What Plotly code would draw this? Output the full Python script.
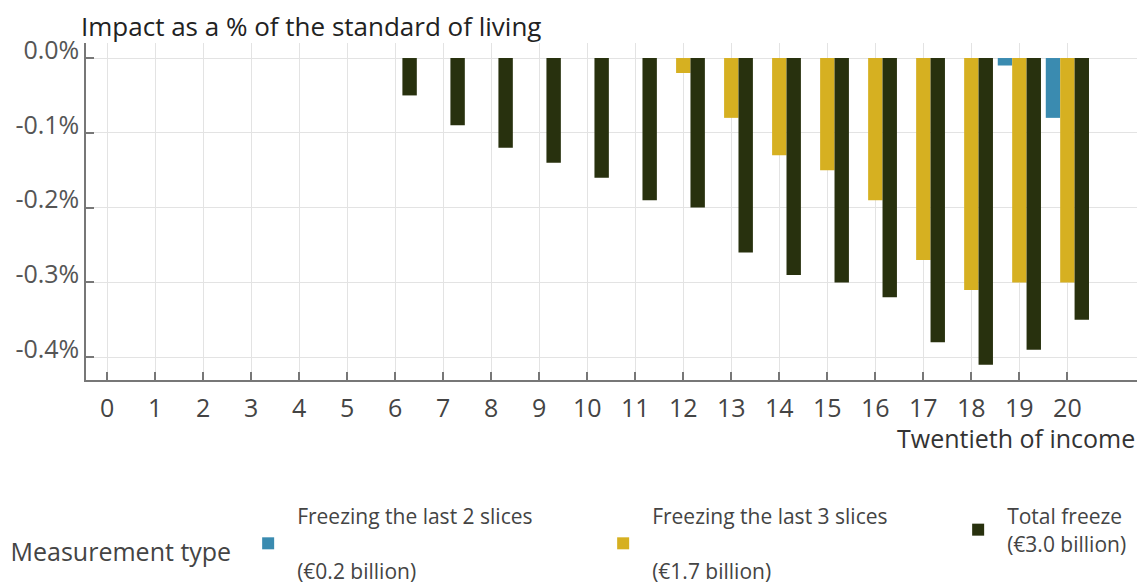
import plotly.graph_objects as go

twentieths = list(range(1, 21))
freeze_2_slices = [0, 0, 0, 0, 0, 0, 0, 0, 0, 0, 0, 0, 0, 0, 0, 0, 0, 0, -0.01, -0.08]
freeze_3_slices = [0, 0, 0, 0, 0, 0, 0, 0, 0, 0, 0, -0.02, -0.08, -0.13, -0.15, -0.19, -0.27, -0.31, -0.30, -0.30]
total_freeze = [0, 0, 0, 0, 0, -0.05, -0.09, -0.12, -0.14, -0.16, -0.19, -0.20, -0.26, -0.29, -0.30, -0.32, -0.38, -0.41, -0.39, -0.35]

series_names = [
    "Freezing the last 2 slices<br><br>(€0.2 billion)",
    "Freezing the last 3 slices<br><br>(€1.7 billion)",
    "Total freeze<br>(€3.0 billion)",
]
colors = ["#3a8bb0", "#d6b021", "#28310e"]

x_ticks = list(range(0, 21))
y_ticks = [0.0, -0.1, -0.2, -0.3, -0.4]
y_ticklabels = ["0.0%", "-0.1%", "-0.2%", "-0.3%", "-0.4%"]

FONT = "Open Sans"
FS = 25
LEG_FS = 21

fig = go.Figure()
for name, vals, col in zip(series_names, [freeze_2_slices, freeze_3_slices, total_freeze], colors):
    fig.add_trace(go.Bar(x=twentieths, y=vals, name=name, marker=dict(color=col, line=dict(width=0))))

# the page body adds an 8px margin, so the figure is sized to fit the window exactly
fig.update_layout(
    width=1139, height=578,
    margin=dict(l=78, r=10, t=35, b=206, autoexpand=False),
    paper_bgcolor="white", plot_bgcolor="white",
    barmode="group", bargap=0.1, bargroupgap=0,
    font=dict(family=FONT, size=FS, color="#444"),
    showlegend=True,
    legend=dict(
        orientation="h", x=-0.0737, xanchor="left", y=-0.3438, yanchor="top",
        font=dict(family=FONT, size=LEG_FS, color="#444"),
        title=dict(text="<br>Measurement type", side="left", font=dict(family=FONT, size=25, color="#444")),
        traceorder="normal", itemwidth=48, entrywidth=292,
    ),
    xaxis=dict(
        range=[-0.44, 21.45], tickmode="array", tickvals=x_ticks,
        ticktext=[str(v) for v in x_ticks],
        showgrid=True, gridcolor="#e3e3e3", gridwidth=1,
        showline=True, linecolor="#777", linewidth=1.5,
        ticks="inside", ticklen=8, tickcolor="#777", tickwidth=1.5,
        tickfont=dict(family=FONT, size=FS, color="#444"),
        ticklabelstandoff=5, zeroline=False,
    ),
    yaxis=dict(
        range=[-0.4305, 0.0201], tickmode="array", tickvals=y_ticks, ticktext=y_ticklabels,
        showgrid=True, gridcolor="#e3e3e3", gridwidth=1,
        showline=True, linecolor="#777", linewidth=1.5,
        ticks="inside", ticklen=8, tickcolor="#777", tickwidth=1.5,
        tickfont=dict(family=FONT, size=FS, color="#555"),
        ticklabelshift=-8, zeroline=False,
    ),
    annotations=[
        dict(text="Impact as a % of the standard of living", xref="paper", yref="paper",
             x=0, y=1, xanchor="left", yanchor="bottom", xshift=-7, yshift=-3, showarrow=False,
             font=dict(family=FONT, size=26, color="#222")),
        dict(text="Twentieth of income", xref="paper", yref="paper",
             x=1, y=-0.172, xanchor="right", yanchor="middle", showarrow=False,
             font=dict(family=FONT, size=FS, color="#333")),
    ],
)

fig.write_html("out.html")
